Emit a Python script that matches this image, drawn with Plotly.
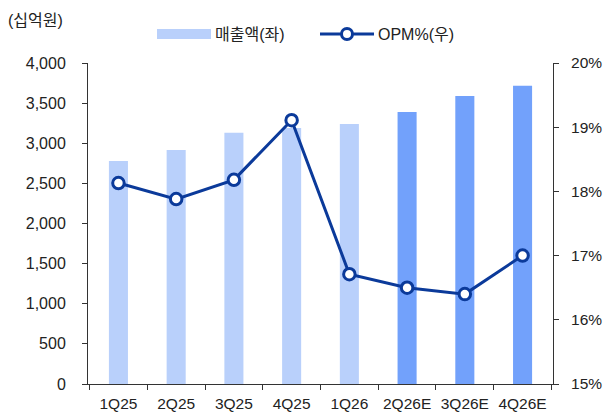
import plotly.graph_objects as go

categories = ["1Q25", "2Q25", "3Q25", "4Q25", "1Q26", "2Q26E", "3Q26E", "4Q26E"]
sales = [2780, 2915, 3130, 3190, 3240, 3390, 3590, 3715]
opm = [18.13, 17.88, 18.18, 19.11, 16.71, 16.50, 16.40, 17.00]
bar_colors = ["#b9d0fb"] * 5 + ["#72a1fb"] * 3

FONT = "Liberation Sans, Arial, Noto Sans CJK KR, sans-serif"
LINE = "#0b3a9a"
AX = "#333"

fig = go.Figure()
fig.add_trace(go.Bar(
    x=categories, y=sales, name="매출액(좌)",
    marker=dict(color=bar_colors, line=dict(width=0)),
    width=0.33, yaxis="y", showlegend=False,
))
fig.add_trace(go.Scatter(
    x=categories, y=opm, name="OPM%(우)", mode="lines+markers",
    line=dict(color=LINE, width=3),
    marker=dict(size=11.5, color="white", line=dict(color=LINE, width=3)),
    yaxis="y2", showlegend=False,
))

# plot area at x 88-553, y 63-384 (body margin removed by post_script)
fig.update_layout(
    width=603, height=414,
    margin=dict(l=88, r=50, t=63, b=30, autoexpand=False),
    paper_bgcolor="white", plot_bgcolor="white",
    font=dict(family=FONT, size=16, color="#222"),
    xaxis=dict(showline=True, linecolor=AX, linewidth=1, ticks="outside",
               tickson="boundaries", ticklen=5, tickcolor=AX, ticklabelstandoff=5,
               tickangle=0, showgrid=False, tickfont=dict(size=15.5)),
    yaxis=dict(range=[0, 4000], dtick=500, tickformat=",", showline=True,
               linecolor=AX, ticks="outside", ticklen=5, tickcolor=AX,
               ticklabelstandoff=13,
               showgrid=False, zeroline=False, tickfont=dict(size=16)),
    yaxis2=dict(range=[15, 20], dtick=1, ticksuffix="%", overlaying="y", side="right",
                showline=True, linecolor=AX, ticks="outside", ticklen=5,
                tickcolor=AX, ticklabelstandoff=9,
                showgrid=False, zeroline=False, tickfont=dict(size=15.5)),
)

# manual legend (positions in page pixels converted to paper coords)
X0, PW, Y0, PH = 88.0, 465.0, 384.0, 321.0
def px(x):
    return (x - X0) / PW
def py(y):
    return (Y0 - y) / PH

ly = 34
fig.add_shape(type="rect", xref="paper", yref="paper",
              x0=px(157), x1=px(211), y0=py(ly + 5), y1=py(ly - 5),
              fillcolor="#b9d0fb", line=dict(width=0))
fig.add_shape(type="line", xref="paper", yref="paper",
              x0=px(320), x1=px(374), y0=py(ly), y1=py(ly),
              line=dict(color=LINE, width=3))
fig.add_shape(type="circle", xref="paper", yref="paper",
              x0=px(347 - 5.5), x1=px(347 + 5.5), y0=py(ly + 5.5), y1=py(ly - 5.5),
              fillcolor="white", line=dict(color=LINE, width=3))
fig.add_annotation(text="매출액(좌)", xref="paper", yref="paper", x=px(213), y=py(ly),
                   xanchor="left", yanchor="middle", showarrow=False, font=dict(size=16))
fig.add_annotation(text="OPM%(우)", xref="paper", yref="paper", x=px(376), y=py(ly),
                   xanchor="left", yanchor="middle", showarrow=False, font=dict(size=16))
fig.add_annotation(text="(십억원)", xref="paper", yref="paper", x=px(6), y=py(21),
                   xanchor="left", yanchor="middle", showarrow=False, font=dict(size=16))

fig.write_html(
    "out.html",
    config={"displayModeBar": False},
    post_script="document.body.style.margin='0';document.body.style.overflow='hidden';",
)
